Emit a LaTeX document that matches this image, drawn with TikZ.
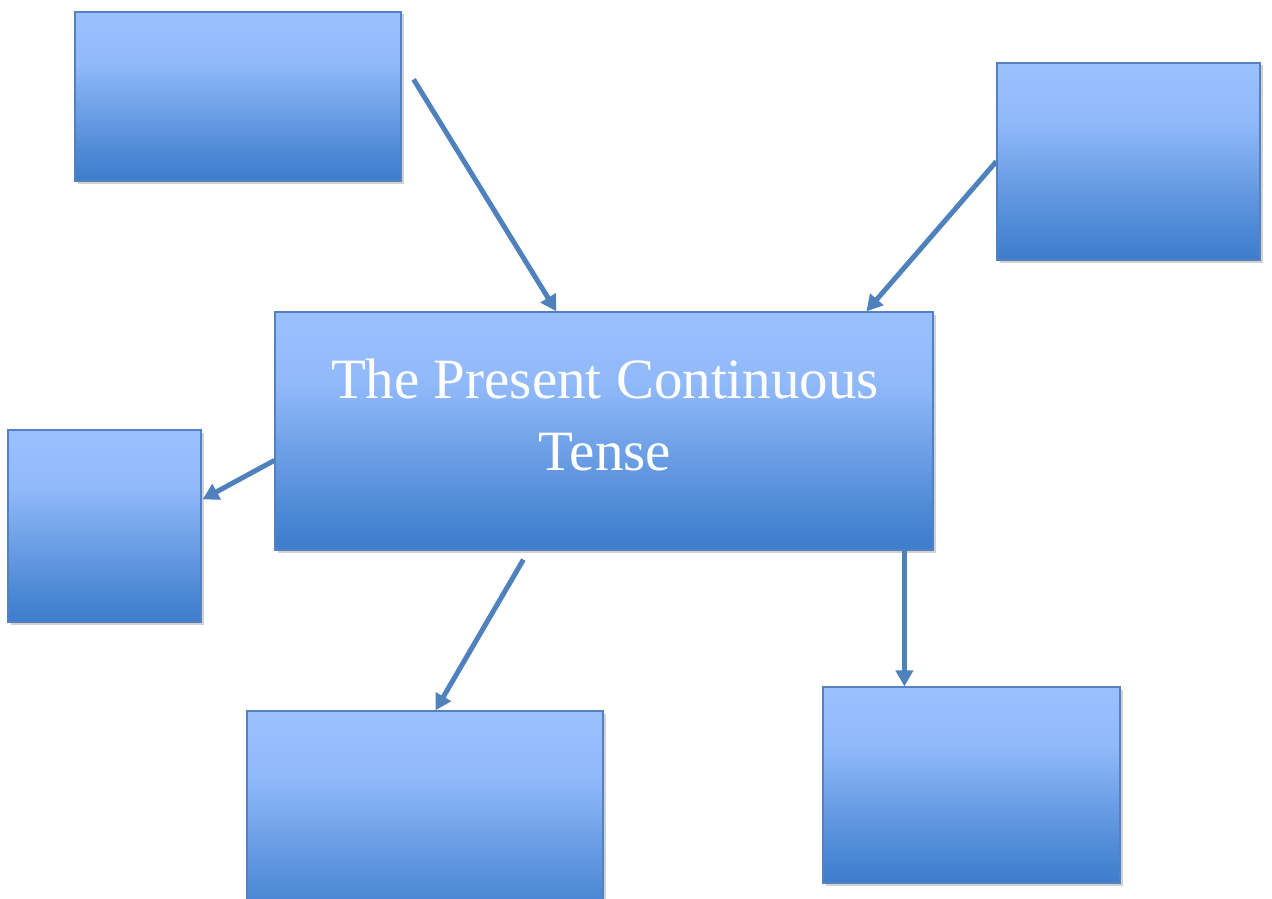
\documentclass[tikz,border=0pt]{standalone}
\usepackage{fontspec}
\setmainfont{Liberation Serif}
\usetikzlibrary{shadows,calc,arrows.meta}
\definecolor{boxtop}{HTML}{9AC0FF}
\definecolor{boxbot}{HTML}{3D7DCC}
\definecolor{boxedge}{HTML}{5582BF}
\definecolor{arrowc}{HTML}{4F81BD}
\pgfdeclareverticalshading{boxshade}{100bp}{color(0bp)=(boxbot); color(25bp)=(boxbot); color(32bp)=(boxbot!85!boxtop); color(47bp)=(boxtop!55!boxbot); color(60bp)=(boxtop!90!boxbot); color(75bp)=(boxtop); color(100bp)=(boxtop)}
\tikzset{
  bluebox/.style={draw=boxedge, line width=1.2pt, shading=boxshade, inner sep=0pt,
    drop shadow={shadow xshift=2.5pt, shadow yshift=-2.5pt, fill=black, opacity=0.18}},
  conn/.style={draw=arrowc, line width=5pt, -{Triangle[length=16pt,width=17pt]}},
}
\newcommand{\bbox}[5]{\node[bluebox, minimum width=#4-#2, minimum height=#5-#3] (#1) at ({(#2+#4)/2},{(#3+#5)/2}) {};}
\begin{document}
\begin{tikzpicture}[x=1pt,y=-1pt]
\useasboundingbox (0,0) rectangle (1272,899);
\clip (0,0) rectangle (1272,899);
\bbox{tl}{75}{12}{401}{181}
\bbox{tr}{997}{63}{1260}{260}
\bbox{c}{275}{312}{933}{550}
\bbox{l}{8}{430}{201}{622}
\bbox{bl}{247}{711}{603}{930}
\bbox{br}{823}{687}{1120}{883}
\node[text=white, font=\fontsize{57}{72}\selectfont, align=center, anchor=base] (title) at (605,470) {The Present Continuous\\Tense};
\coordinate (s1) at ($(tl.north east)+(12,68)$);
\coordinate (s2) at ($(tr.north west)+(0,99)$);
\coordinate (s3) at ($(c.north west)+(0,149)$);
\coordinate (s4) at ($(c.south west)+(249,9)$);
\coordinate (s5) at ($(c.south west)+(630,0)$);
\draw[conn] (s1) -- ($(c.north west)+(282,0)$);
\draw[conn] (s2) -- ($(c.north west)+(592,0)$);
\draw[conn] (s3) -- ($(l.north east)+(1,70)$);
\draw[conn] (s4) -- ($(bl.north west)+(189,0)$);
\draw[conn] (s5) -- ($(br.north west)+(82,0)$);
\end{tikzpicture}
\end{document}
